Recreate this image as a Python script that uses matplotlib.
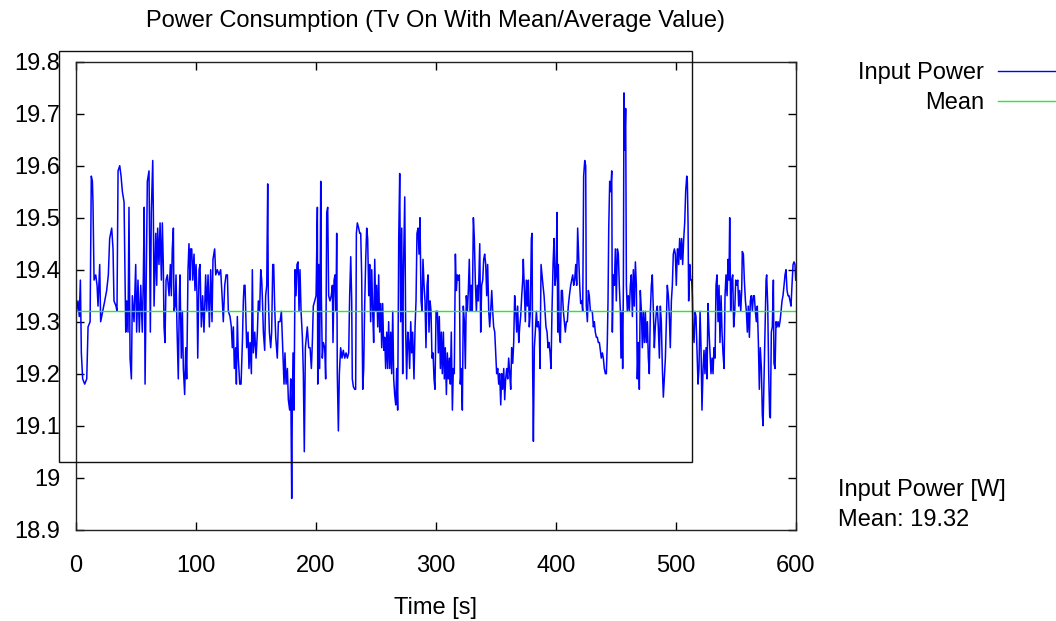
import matplotlib
matplotlib.use("Agg")
import matplotlib.pyplot as plt
from matplotlib.lines import Line2D
from matplotlib.patches import Rectangle
from matplotlib.ticker import FuncFormatter

plt.rcParams['font.family'] = ['Liberation Sans', 'DejaVu Sans']

title = "Power Consumption (Tv On With Mean/Average Value)"
x_label = "Time [s]"
series_label = "Input Power"
mean_label = "Mean"
mean_value = 19.32
note_lines = ["Input Power [W]", "Mean: 19.32"]
x_ticks = [0, 100, 200, 300, 400, 500, 600]
y_ticks = [18.9, 19.0, 19.1, 19.2, 19.3, 19.4, 19.5, 19.6, 19.7, 19.8]

times_0_100 = [0.0, 0.8, 1.9, 3.0, 3.9, 4.7, 5.8, 7.5, 9.2, 10.3, 12.0, 13.0, 13.9, 14.4, 15.3, 16.7, 17.8, 18.6, 20.0, 20.8,
               22.5, 24.2, 25.8, 27.2, 28.3, 30.0, 31.1, 31.9, 33.6, 34.4, 35.3, 36.7, 37.8, 38.9, 40.3, 40.8, 41.7, 42.5, 43.6, 44.4,
               45.3, 46.4, 47.2, 48.6, 50.0, 50.8, 51.9, 53.0, 54.2, 55.5, 56.4, 57.1, 57.8, 58.6, 59.7, 61.1, 62.2, 63.0, 64.2, 64.7,
               65.3, 66.7, 67.5, 68.3, 69.4, 70.3, 71.4, 72.2, 73.0, 73.6, 74.4, 75.3, 76.4, 77.8, 78.9, 79.7, 80.5, 81.4, 81.9, 82.8,
               83.6, 84.4, 85.5, 86.4, 86.9, 88.0, 88.9, 89.7, 90.8, 91.7, 92.5, 93.6, 94.4, 95.3, 95.8, 96.7, 97.5, 98.6, 99.4, 100.3,
               101.1, 101.7]
watts_0_100 = [19.33, 19.32, 19.34, 19.31, 19.38, 19.24, 19.19, 19.18, 19.19, 19.29, 19.30, 19.58, 19.57, 19.53, 19.38, 19.39, 19.37, 19.33, 19.41, 19.30,
               19.32, 19.34, 19.36, 19.39, 19.46, 19.48, 19.44, 19.34, 19.33, 19.32, 19.59, 19.60, 19.58, 19.55, 19.53, 19.44, 19.28, 19.34, 19.28, 19.52,
               19.23, 19.19, 19.35, 19.30, 19.41, 19.28, 19.38, 19.28, 19.37, 19.28, 19.39, 19.52, 19.18, 19.35, 19.57, 19.59, 19.28, 19.51, 19.61, 19.51,
               19.33, 19.47, 19.37, 19.48, 19.41, 19.49, 19.38, 19.49, 19.41, 19.29, 19.26, 19.38, 19.39, 19.35, 19.41, 19.35, 19.44, 19.48, 19.32, 19.33,
               19.39, 19.29, 19.19, 19.35, 19.39, 19.23, 19.32, 19.21, 19.16, 19.25, 19.19, 19.40, 19.45, 19.38, 19.44, 19.44, 19.38, 19.43, 19.36, 19.41,
               19.35, 19.23]

times_100_200 = [102.8, 103.6, 104.7, 105.8, 106.9, 108.3, 109.2, 110.3, 111.4, 112.5, 113.6, 114.4, 115.8, 116.7, 118.0, 119.4, 120.8, 122.2, 123.0, 124.2,
                 125.3, 126.4, 127.2, 128.6, 129.7, 130.5, 131.4, 132.2, 133.3, 133.9, 134.7, 135.5, 136.7, 137.8, 138.9, 139.7, 140.3, 141.1, 141.7, 142.5,
                 143.6, 144.4, 145.3, 146.4, 147.2, 148.0, 149.2, 150.3, 151.4, 152.2, 153.3, 154.2, 155.0, 155.5, 156.4, 157.5, 158.3, 159.2, 160.0, 160.5,
                 161.4, 162.5, 163.3, 164.2, 165.0, 165.8, 166.7, 168.0, 168.9, 170.3, 171.4, 172.2, 173.0, 173.6, 174.4, 175.3, 176.4, 177.2, 178.3, 179.2,
                 180.0, 180.5, 181.1, 181.9, 182.8, 183.6, 184.4, 185.3, 186.1, 186.9, 187.8, 188.9, 189.7, 190.5, 191.4, 192.2, 193.0, 194.2, 195.3, 196.4,
                 197.2, 198.0, 199.2, 200.3, 201.4, 201.7]
watts_100_200 = [19.40, 19.41, 19.29, 19.35, 19.28, 19.39, 19.32, 19.39, 19.29, 19.40, 19.30, 19.42, 19.44, 19.39, 19.40, 19.39, 19.40, 19.34, 19.30, 19.37,
                 19.39, 19.39, 19.32, 19.31, 19.29, 19.25, 19.29, 19.21, 19.25, 19.18, 19.31, 19.23, 19.18, 19.18, 19.26, 19.34, 19.37, 19.37, 19.32, 19.25,
                 19.28, 19.21, 19.26, 19.20, 19.40, 19.24, 19.28, 19.23, 19.28, 19.34, 19.32, 19.40, 19.38, 19.35, 19.28, 19.245, 19.35, 19.37, 19.565, 19.35,
                 19.28, 19.25, 19.28, 19.41, 19.41, 19.33, 19.27, 19.23, 19.30, 19.30, 19.32, 19.27, 19.22, 19.18, 19.24, 19.18, 19.21, 19.15, 19.13, 19.19,
                 18.96, 19.13, 19.24, 19.13, 19.40, 19.35, 19.41, 19.415, 19.32, 19.40, 19.32, 19.27, 19.20, 19.05, 19.25, 19.27, 19.29, 19.25, 19.25, 19.21,
                 19.26, 19.33, 19.34, 19.35, 19.52, 19.18]

times_200_300 = [202.5, 203.3, 204.2, 204.7, 205.5, 206.4, 207.5, 208.3, 209.2, 210.0, 210.8, 211.9, 213.0, 213.9, 214.4, 215.3, 216.1, 216.9, 217.5, 218.0,
                 218.9, 219.7, 220.8, 221.9, 223.0, 224.2, 225.3, 226.4, 227.5, 228.3, 229.2, 230.0, 230.5, 231.4, 232.5, 233.3, 233.9, 234.7, 235.8, 236.7,
                 237.5, 238.3, 239.2, 240.0, 240.8, 241.7, 242.5, 243.3, 244.2, 245.0, 245.8, 246.7, 247.5, 248.3, 249.2, 250.0, 250.8, 251.7, 252.5, 253.3,
                 254.2, 255.0, 255.8, 256.7, 257.5, 258.3, 259.2, 260.0, 260.8, 261.7, 262.5, 263.3, 264.2, 265.0, 265.8, 266.7, 267.5, 268.3, 269.2, 270.0,
                 270.8, 271.7, 272.5, 273.0, 274.2, 275.0, 275.8, 276.7, 277.5, 278.3, 279.2, 280.0, 280.8, 281.9, 282.8, 283.6, 284.4, 285.3, 286.1, 286.9,
                 287.8, 288.6, 289.4, 290.3, 291.1, 291.9, 292.8, 293.6, 294.4, 295.3, 296.1, 296.9, 297.8, 298.6, 299.4, 300.3, 301.4]
watts_200_300 = [19.41, 19.21, 19.57, 19.35, 19.23, 19.26, 19.25, 19.19, 19.51, 19.52, 19.35, 19.34, 19.35, 19.37, 19.26, 19.38, 19.39, 19.32, 19.47, 19.20,
                 19.09, 19.20, 19.25, 19.23, 19.245, 19.23, 19.24, 19.23, 19.24, 19.35, 19.425, 19.34, 19.19, 19.175, 19.17, 19.17, 19.47, 19.49, 19.48, 19.47,
                 19.47, 19.39, 19.17, 19.21, 19.33, 19.42, 19.48, 19.46, 19.35, 19.41, 19.30, 19.40, 19.32, 19.26, 19.42, 19.32, 19.37, 19.29, 19.39, 19.28,
                 19.335, 19.25, 19.335, 19.245, 19.27, 19.21, 19.28, 19.21, 19.30, 19.21, 19.28, 19.20, 19.32, 19.19, 19.16, 19.14, 19.21, 19.13, 19.46, 19.585,
                 19.30, 19.48, 19.20, 19.38, 19.54, 19.28, 19.19, 19.28, 19.26, 19.21, 19.30, 19.24, 19.28, 19.19, 19.29, 19.34, 19.47, 19.48, 19.43, 19.50,
                 19.34, 19.32, 19.42, 19.37, 19.34, 19.25, 19.37, 19.39, 19.28, 19.34, 19.32, 19.23, 19.24, 19.19, 19.17, 19.32, 19.32]

times_300_400 = [302.2, 303.0, 303.9, 304.7, 305.5, 306.4, 307.2, 308.0, 308.9, 309.7, 310.5, 311.4, 312.2, 313.0, 313.9, 314.7, 315.5, 316.4, 317.2, 318.0,
                 318.9, 319.7, 320.5, 321.4, 322.2, 323.0, 323.9, 324.7, 325.5, 326.4, 327.2, 328.0, 328.9, 329.7, 330.5, 331.4, 332.2, 333.0, 333.9, 334.7,
                 335.5, 336.7, 337.5, 338.3, 339.2, 340.0, 340.8, 341.7, 342.5, 343.3, 344.2, 345.0, 345.8, 346.7, 347.5, 348.3, 349.2, 350.0, 350.8, 351.7,
                 352.5, 353.3, 354.2, 355.0, 355.8, 356.7, 357.5, 358.3, 359.2, 360.0, 360.8, 361.7, 362.5, 363.3, 364.2, 365.0, 365.8, 366.7, 367.5, 368.3,
                 369.2, 370.0, 370.8, 371.7, 372.5, 373.0, 373.9, 374.7, 375.5, 376.4, 377.2, 378.0, 378.9, 379.7, 380.3, 380.8, 381.4, 382.2, 383.0, 383.9,
                 384.7, 385.5, 386.4, 386.9, 387.8, 388.6, 389.4, 390.3, 391.1, 391.9, 392.8, 393.6, 394.4, 395.3, 396.1, 396.9, 397.8, 398.6, 399.4, 400.3,
                 401.1, 401.7]
watts_300_400 = [19.24, 19.31, 19.21, 19.28, 19.20, 19.28, 19.19, 19.25, 19.16, 19.24, 19.19, 19.23, 19.18, 19.28, 19.13, 19.21, 19.20, 19.43, 19.36, 19.39,
                 19.38, 19.39, 19.18, 19.21, 19.13, 19.33, 19.30, 19.21, 19.35, 19.32, 19.36, 19.42, 19.32, 19.37, 19.32, 19.50, 19.46, 19.38, 19.32, 19.37,
                 19.34, 19.45, 19.28, 19.37, 19.38, 19.42, 19.43, 19.41, 19.35, 19.41, 19.32, 19.29, 19.32, 19.36, 19.32, 19.29, 19.28, 19.24, 19.20, 19.21,
                 19.18, 19.20, 19.14, 19.20, 19.17, 19.21, 19.15, 19.19, 19.21, 19.19, 19.23, 19.20, 19.17, 19.25, 19.22, 19.26, 19.35, 19.32, 19.28, 19.33,
                 19.26, 19.29, 19.31, 19.35, 19.38, 19.42, 19.36, 19.30, 19.38, 19.33, 19.38, 19.29, 19.32, 19.46, 19.47, 19.21, 19.07, 19.25, 19.28, 19.32,
                 19.29, 19.30, 19.28, 19.21, 19.41, 19.39, 19.37, 19.35, 19.32, 19.29, 19.28, 19.25, 19.26, 19.24, 19.21, 19.32, 19.41, 19.46, 19.37, 19.39,
                 19.51, 19.28]

times_400_500 = [402.2, 403.0, 403.9, 404.7, 405.5, 406.4, 407.2, 408.0, 408.9, 409.7, 410.5, 411.4, 412.5, 413.3, 414.2, 415.0, 415.8, 416.7, 417.5, 418.3,
                 419.2, 420.0, 420.8, 421.7, 422.5, 423.3, 424.2, 425.0, 425.5, 426.4, 427.2, 428.0, 428.9, 429.7, 430.5, 431.4, 432.2, 433.0, 433.9, 434.7,
                 435.5, 436.4, 437.2, 438.0, 438.9, 439.7, 440.5, 441.4, 442.2, 443.0, 443.6, 444.2, 445.0, 445.8, 446.7, 447.2, 448.0, 448.9, 449.7, 450.5,
                 451.4, 452.2, 453.0, 453.9, 454.4, 455.3, 455.8, 456.4, 456.9, 457.5, 458.3, 458.9, 459.7, 460.5, 461.4, 462.2, 463.0, 463.9, 464.7, 465.5,
                 466.4, 467.2, 468.0, 468.9, 469.7, 470.5, 471.4, 472.2, 473.0, 473.9, 474.7, 475.5, 476.4, 477.2, 478.0, 478.9, 479.7, 480.5, 481.4, 482.2,
                 483.0, 483.9, 484.7, 485.5, 486.4, 487.2, 488.0, 488.9, 489.7, 490.5, 491.4, 492.2, 493.0, 493.9, 494.7, 495.5, 496.4, 497.2, 498.0, 498.9,
                 499.7, 500.5, 501.4]
watts_400_500 = [19.41, 19.28, 19.26, 19.36, 19.36, 19.32, 19.30, 19.28, 19.30, 19.30, 19.33, 19.35, 19.37, 19.38, 19.39, 19.37, 19.38, 19.41, 19.37, 19.48,
                 19.42, 19.37, 19.335, 19.34, 19.32, 19.58, 19.61, 19.60, 19.33, 19.30, 19.36, 19.35, 19.32, 19.32, 19.32, 19.29, 19.30, 19.28, 19.27, 19.27,
                 19.26, 19.26, 19.245, 19.23, 19.24, 19.23, 19.21, 19.20, 19.20, 19.26, 19.34, 19.48, 19.57, 19.55, 19.59, 19.28, 19.39, 19.37, 19.44, 19.34,
                 19.44, 19.43, 19.37, 19.32, 19.23, 19.32, 19.21, 19.37, 19.74, 19.63, 19.71, 19.37, 19.32, 19.35, 19.32, 19.37, 19.39, 19.31, 19.40, 19.33,
                 19.415, 19.37, 19.19, 19.26, 19.17, 19.36, 19.32, 19.25, 19.32, 19.26, 19.32, 19.26, 19.30, 19.23, 19.20, 19.32, 19.37, 19.39, 19.32, 19.25,
                 19.29, 19.32, 19.33, 19.29, 19.23, 19.33, 19.30, 19.21, 19.155, 19.19, 19.23, 19.30, 19.37, 19.35, 19.31, 19.25, 19.34, 19.37, 19.43, 19.44,
                 19.43, 19.37, 19.44]

times_500_600 = [501.7, 502.5, 503.3, 504.2, 505.0, 505.8, 506.7, 507.5, 508.3, 509.2, 509.7, 510.3, 510.8, 511.7, 512.5, 513.3, 513.9, 514.4, 515.3, 516.1,
                 516.9, 517.8, 518.6, 519.4, 520.3, 521.1, 521.9, 522.8, 523.6, 524.4, 525.3, 526.1, 526.9, 527.8, 528.6, 529.4, 530.3, 531.1, 531.9, 532.8,
                 533.6, 534.4, 535.3, 536.1, 536.9, 537.8, 538.6, 539.4, 540.3, 541.1, 541.9, 542.8, 543.6, 544.4, 545.0, 545.8, 546.7, 547.5, 548.3, 549.2,
                 550.0, 550.8, 551.7, 552.5, 553.3, 554.2, 555.0, 555.5, 556.4, 557.2, 558.1, 558.9, 559.7, 560.5, 561.4, 562.2, 563.0, 563.9, 564.7, 565.5,
                 566.4, 567.2, 568.0, 568.9, 569.7, 570.5, 571.4, 572.2, 572.8, 573.6, 574.4, 575.3, 575.8, 576.7, 577.5, 578.3, 578.9, 579.7, 580.5, 581.4,
                 581.9, 582.8, 583.6, 584.4, 585.3, 586.1, 586.9, 587.8, 588.6, 589.4, 590.3, 591.1, 591.9, 592.8, 593.6, 594.4, 595.3, 596.1, 596.9, 597.8,
                 598.6, 599.4, 600.0]
watts_500_600 = [19.44, 19.41, 19.46, 19.42, 19.46, 19.41, 19.46, 19.49, 19.55, 19.58, 19.57, 19.49, 19.34, 19.41, 19.38, 19.38, 19.35, 19.29, 19.26, 19.32,
                 19.31, 19.24, 19.18, 19.21, 19.32, 19.25, 19.13, 19.21, 19.245, 19.20, 19.25, 19.19, 19.335, 19.28, 19.24, 19.20, 19.23, 19.20, 19.25, 19.23,
                 19.37, 19.39, 19.30, 19.37, 19.26, 19.35, 19.28, 19.24, 19.21, 19.35, 19.39, 19.35, 19.42, 19.38, 19.50, 19.32, 19.38, 19.39, 19.29, 19.32,
                 19.38, 19.37, 19.38, 19.33, 19.36, 19.32, 19.36, 19.435, 19.43, 19.38, 19.34, 19.32, 19.28, 19.33, 19.27, 19.34, 19.35, 19.32, 19.35, 19.35,
                 19.32, 19.30, 19.33, 19.26, 19.17, 19.25, 19.21, 19.12, 19.10, 19.19, 19.28, 19.38, 19.39, 19.33, 19.20, 19.12, 19.115, 19.28, 19.29, 19.38,
                 19.22, 19.21, 19.30, 19.29, 19.30, 19.29, 19.30, 19.32, 19.34, 19.35, 19.37, 19.39, 19.40, 19.36, 19.35, 19.35, 19.34, 19.33, 19.37, 19.41,
                 19.415, 19.41, 19.38]

times = times_0_100 + times_100_200 + times_200_300 + times_300_400 + times_400_500 + times_500_600
watts = watts_0_100 + watts_100_200 + watts_200_300 + watts_300_400 + watts_400_500 + watts_500_600

FS = 17
W, H = 1056, 621
fig = plt.figure(figsize=(W / 100, H / 100), dpi=100)
ax_l, ax_r, ax_t, ax_b = 75.7, 795.7, 61.7, 529.7
ax = fig.add_axes([ax_l / W, 1 - ax_b / H, (ax_r - ax_l) / W, (ax_b - ax_t) / H])

blue = '#0000ff'
green = '#22ee22'
ax.plot(times, watts, color=blue, lw=1.1)
ax.axhline(mean_value, color=green, lw=1.0)

ax.set_xlim(0, 600)
ax.set_ylim(18.9, 19.8)
ax.set_xticks(x_ticks)
ax.set_yticks(y_ticks)
ax.yaxis.set_major_formatter(FuncFormatter(lambda v, p: '%g' % round(v, 2)))
ax.tick_params(direction='in', length=6, width=1, top=True, right=True, labelsize=FS, colors='black')
ax.tick_params(axis='x', pad=18)
ax.tick_params(axis='y', pad=11)
for s in ax.spines.values():
    s.set_linewidth(1.0)
    s.set_color('#222222')

# extra rectangle frame seen in the reference
fig.add_artist(Rectangle((59 / W, 1 - 462 / H), (692 - 59) / W, (462 - 51) / H,
                         transform=fig.transFigure, fill=False, edgecolor='#111111', lw=1.0))

fig.text((ax_l + ax_r) / 2 / W, 1 - 21 / H, title, ha='center', va='center', fontsize=FS)
fig.text((ax_l + ax_r) / 2 / W, 1 - 608 / H, x_label, ha='center', va='center', fontsize=FS)

# legend (gnuplot style: text then line sample)
fig.text(984 / W, 1 - 73 / H, series_label, ha='right', va='center', fontsize=FS)
fig.text(984 / W, 1 - 103 / H, mean_label, ha='right', va='center', fontsize=FS)
fig.add_artist(Line2D([998 / W, 1.0], [1 - 71 / H, 1 - 71 / H], transform=fig.transFigure, color=blue, lw=1.0))
fig.add_artist(Line2D([998 / W, 1.0], [1 - 101 / H, 1 - 101 / H], transform=fig.transFigure, color=green, lw=1.0))

fig.text(838 / W, 1 - 490 / H, note_lines[0], ha='left', va='center', fontsize=FS)
fig.text(838 / W, 1 - 520 / H, note_lines[1], ha='left', va='center', fontsize=FS)

fig.savefig('out.png', dpi=100)
